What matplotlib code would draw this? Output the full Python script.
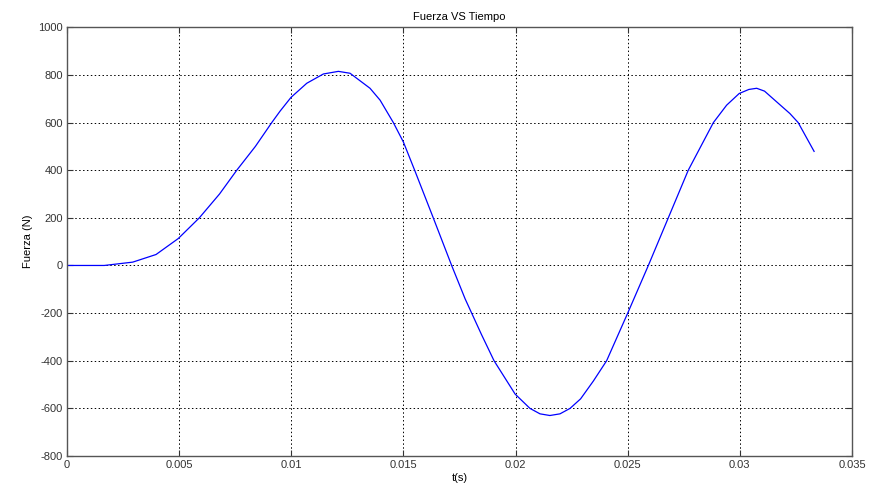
import numpy as np
import matplotlib.pyplot as plt
from matplotlib.ticker import FuncFormatter

plt.rcParams['font.family'] = ['Liberation Sans', 'DejaVu Sans']
plt.rcParams['axes.unicode_minus'] = False

# values
t = [0, 0.001, 0.00166, 0.00293, 0.00397, 0.00496, 0.0059, 0.0068,
     0.00757, 0.0084, 0.00913, 0.0095, 0.00999, 0.01069, 0.01143, 0.0121,
     0.01262, 0.01351, 0.01396, 0.01455, 0.015, 0.0155, 0.01633, 0.01715,
     0.01775, 0.01848, 0.01904, 0.01998, 0.02064, 0.02109, 0.02153, 0.02198,
     0.02243, 0.0229, 0.02347, 0.02406, 0.025, 0.02592, 0.02681, 0.0277,
     0.02882, 0.02941, 0.02997, 0.0304, 0.03075, 0.0311, 0.03164, 0.03223,
     0.0326, 0.03331]
fuerza = [0, 0, 0, 14, 46, 113, 200, 300,
          400, 500, 600, 648, 706, 765, 804, 815,
          807, 744, 694, 600, 518, 400, 200, 0,
          -140, -290, -400, -540, -600, -623, -630, -623,
          -600, -560, -485, -400, -200, 0, 200, 400,
          600, 673, 722, 739, 744, 732, 687, 638,
          600, 479]

xticks = [0, 0.005, 0.01, 0.015, 0.02, 0.025, 0.03, 0.035]
yticks = list(range(-800, 1001, 200))

fig = plt.figure(figsize=(8.71, 4.90), dpi=100)
ax = fig.add_axes([67/871, 1 - 456/490, 785/871, (456 - 27.3)/490])

ax.plot(t, fuerza, color='#0000ff', lw=0.9)

ax.set_xlim(0, 0.035)
ax.set_ylim(-800, 1000)
ax.set_xticks(xticks)
ax.set_yticks(yticks)
ax.xaxis.set_major_formatter(FuncFormatter(lambda v, p: '%g' % v))
ax.grid(True, color='black', linestyle=(0, (1.5, 2.5)), linewidth=0.7)
ax.tick_params(direction='in', length=4, labelsize=8, colors='#333333',
               top=True, right=True, pad=3)
for s in ax.spines.values():
    s.set_color('#555555')
    s.set_linewidth(1.0)

ax.set_title('Fuerza VS Tiempo', fontsize=8, pad=5)
ax.set_xlabel('t(s)', fontsize=8, labelpad=2)
ax.set_ylabel('Fuerza (N)', fontsize=8, labelpad=4)

fig.savefig('out.png', dpi=100)
